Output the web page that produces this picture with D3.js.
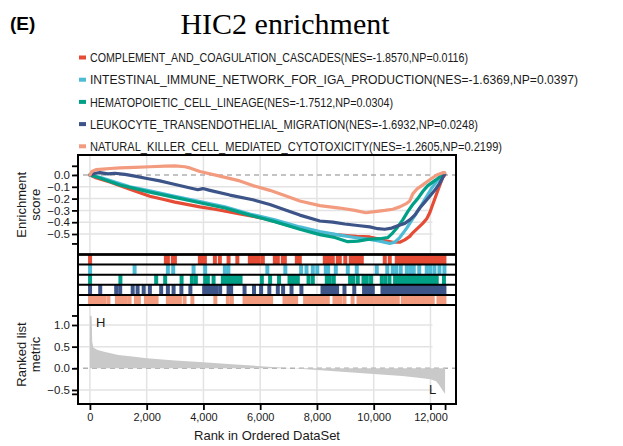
<!DOCTYPE html>
<html>
<head>
<meta charset="utf-8">
<script src="https://cdn.jsdelivr.net/npm/d3@7"></script>
<style>
  body { margin: 0; background: #fff; }
  text { font-family: "Liberation Sans", Arial, sans-serif; }
</style>
</head>
<body>
<svg id="chart" width="623" height="446"></svg>
<script>
// ---- gene sets ----
const setNames = [
  "COMPLEMENT_AND_COAGULATION_CASCADES",
  "INTESTINAL_IMMUNE_NETWORK_FOR_IGA_PRODUCTION",
  "HEMATOPOIETIC_CELL_LINEAGE",
  "LEUKOCYTE_TRANSENDOTHELIAL_MIGRATION",
  "NATURAL_KILLER_CELL_MEDIATED_CYTOTOXICITY"
];
const setNES = [-1.8570, -1.6369, -1.7512, -1.6932, -1.2605];
const setNP = [0.0116, 0.0397, 0.0304, 0.0248, 0.2199];
const setColors = ["#E64B35", "#4DBBD5", "#00A087", "#3C5488", "#F39B7F"];

// ---- running enrichment score, [rank, ES] ----
const esComplement = [[0,0],[176,-0.02],[704,-0.06],[1409,-0.12],[2113,-0.18],[2642,-0.21],[2994,-0.23],[3874,-0.27],[4403,-0.29],[5283,-0.33],[6163,-0.37],[7044,-0.43],[7748,-0.47],[8453,-0.5],[9157,-0.515],[9403,-0.52],[9861,-0.525],[10143,-0.54],[10390,-0.555],[10672,-0.57],[10918,-0.57],[11094,-0.55],[11270,-0.52],[11376,-0.49],[11552,-0.45],[11728,-0.41],[11869,-0.37],[11975,-0.32],[12080,-0.25],[12186,-0.18],[12292,-0.11],[12433,-0.02],[12503,0]];
const esIntestinal = [[0,0],[352,-0.02],[1409,-0.1],[2113,-0.135],[2994,-0.18],[3874,-0.225],[4755,-0.27],[5635,-0.33],[6516,-0.38],[7396,-0.44],[8101,-0.48],[8805,-0.51],[9333,-0.53],[9861,-0.545],[10214,-0.56],[10566,-0.58],[10742,-0.57],[10918,-0.53],[11165,-0.45],[11376,-0.37],[11517,-0.32],[11693,-0.25],[11869,-0.18],[12045,-0.11],[12221,-0.055],[12362,-0.03],[12468,0]];
const esHematopoietic = [[0,0],[352,-0.025],[1057,-0.085],[2113,-0.145],[2994,-0.19],[3874,-0.235],[4755,-0.28],[5635,-0.34],[6516,-0.395],[7396,-0.46],[8101,-0.505],[8629,-0.53],[9087,-0.565],[9439,-0.56],[9791,-0.545],[10214,-0.54],[10496,-0.53],[10672,-0.49],[10848,-0.44],[11024,-0.38],[11200,-0.31],[11376,-0.25],[11552,-0.2],[11728,-0.14],[11905,-0.09],[12080,-0.06],[12256,-0.03],[12397,0]];
const esLeukocyte = [[0,0],[176,0.015],[352,0.02],[634,0.01],[880,0.015],[1233,0.005],[1585,-0.01],[2007,-0.03],[2465,-0.05],[2818,-0.07],[3346,-0.1],[3804,-0.125],[3980,-0.115],[4226,-0.13],[4931,-0.17],[5741,-0.21],[6340,-0.25],[6938,-0.3],[7396,-0.34],[8101,-0.39],[8558,-0.4],[8981,-0.415],[9509,-0.43],[9861,-0.44],[10143,-0.455],[10390,-0.46],[10637,-0.45],[10848,-0.43],[11094,-0.41],[11270,-0.38],[11447,-0.34],[11623,-0.28],[11799,-0.23],[11975,-0.18],[12151,-0.13],[12327,-0.07],[12503,0.01]];
const esNaturalKiller = [[0,0],[70,0.03],[211,0.045],[458,0.05],[704,0.055],[1057,0.06],[1585,0.065],[2113,0.07],[2642,0.075],[2994,0.078],[3346,0.07],[3522,0.06],[3874,0.03],[4579,-0.01],[5283,-0.05],[5741,-0.09],[6340,-0.13],[6938,-0.18],[7396,-0.22],[8101,-0.26],[8805,-0.28],[9333,-0.3],[9720,-0.32],[10037,-0.31],[10390,-0.3],[10672,-0.29],[10918,-0.27],[11165,-0.24],[11270,-0.22],[11376,-0.16],[11517,-0.12],[11693,-0.09],[11975,-0.04],[12221,0],[12433,0.02],[12503,0.02]];
const esSeries = [esComplement, esIntestinal, esHematopoietic, esLeukocyte, esNaturalKiller];

// ---- positions of gene-set members in the ranked list ----
const hitsComplement = [5,2677,2747,2923,2994,3874,3980,4050,4403,4579,4885,5195,5635,5741,5847,5952,6093,6516,6621,6797,6868,7291,7396,8277,8383,8488,8558,8735,8805,8999,9192,9298,9403,9509,9580,10390,10566,10812,10918,11024,11130,11235,11341,11447,11552,11658,11764,11869,11975,12080,12186,12292,12397,12492];
const hitsIntestinal = [5,1574,2747,2935,3652,4061,4755,4878,6252,6886,7442,7632,7854,8012,8312,8393,8664,9087,9403,10108,10478,10672,10795,10953,11165,11288,11411,11605,11869,11992,12140,12316,12492];
const hitsHematopoietic = [5,1074,2335,2652,3230,3592,3733,4061,4156,4357,4684,4790,4896,5001,5107,5213,5308,6058,6350,6664,7033,7150,7255,7326,7703,7854,8347,8453,8594,9168,9281,9439,9640,9756,9907,10284,10408,10555,10753,10866,10971,11077,11183,11288,11394,11500,11605,11711,11817,11922,12028,12133,12221,12475];
const hitsLeukocyte = [5,363,926,1067,1507,1680,1895,2113,2511,2747,2948,3223,3540,4026,4131,4237,4343,4448,4589,4885,4977,5449,5783,6033,6322,6621,6808,7104,7453,8196,8301,8407,8513,8618,8710,8970,9316,9661,9767,9872,9967,10309,10415,10520,10626,10732,10837,10943,11048,11154,11260,11365,11471,11577,11683,11788,11894,12000,12105,12211,12316,12422,12492];
const hitsNaturalKiller = [5,88,194,299,405,511,652,951,1057,1162,1268,1398,1620,1726,1972,2078,2184,2289,2349,2747,2853,2958,3064,3170,3335,3610,4420,4860,5001,5449,5554,5660,5765,5871,5977,6082,6188,6294,6385,6857,6963,7069,7174,7266,7583,7689,7794,7900,8006,8111,8217,8323,8383,8618,8724,8830,8970,9256,9464,9570,9675,9781,9886,9992,10098,10203,10309,10415,10520,10626,10732,10848,11024,11130,11235,11341,11447,11552,11658,11764,11869,11975,12080,12281,12387,12492];
const hitSeries = [hitsComplement, hitsIntestinal, hitsHematopoietic, hitsLeukocyte, hitsNaturalKiller];

// ---- ranked list metric ----
const metricRanks = [0,60,80,120,250,500,1000,1500,2000,3000,4000,5000,6000,7000,8000,9000,10000,11000,11500,12000,12200,12300,12420,12480,12515];
const metricValues = [1.22,1.2,0.62,0.48,0.43,0.38,0.31,0.27,0.23,0.18,0.14,0.095,0.05,0.005,-0.04,-0.085,-0.13,-0.18,-0.21,-0.25,-0.3,-0.38,-0.5,-0.56,-0.59];
const rankMax = 12515;

// ---- axis ticks ----
const rankTicks = [0, 2000, 4000, 6000, 8000, 10000, 12000];
const esTicks = [0, -0.1, -0.2, -0.3, -0.4, -0.5];
const metricTicks = [1.0, 0.5, 0.0, -0.5];

// ---- layout ----
const svg = d3.select("#chart");
const L = 78, R = 456;
const topY0 = 155, topY1 = 254.5;
const rowsY0 = 254.5, rowsY1 = 305;
const botY0 = 305, botY1 = 404;
const rowH = (rowsY1 - rowsY0) / hitSeries.length;
const gridColor = "#e3e3e3";
const inkColor = "#1a1a1a";

const x = d3.scaleLinear().domain([-420, 12900]).range([L, R]);
const yES = d3.scaleLinear().domain([0, -0.5]).range([175, 234]);
const yM = d3.scaleLinear().domain([0, 1]).range([368.3, 325]);

// vertical grid through all three panels
svg.append("g").selectAll("line").data(rankTicks).join("line")
  .attr("x1", d => x(d)).attr("x2", d => x(d))
  .attr("y1", topY0).attr("y2", botY1)
  .attr("stroke", gridColor).attr("stroke-width", 1.5);

// horizontal grid (enrichment + metric panels)
svg.append("g").selectAll("line").data(esTicks.filter(d => d !== 0)).join("line")
  .attr("x1", L).attr("x2", x(12000) + 2)
  .attr("y1", d => yES(d)).attr("y2", d => yES(d))
  .attr("stroke", gridColor).attr("stroke-width", 1.5);
svg.append("g").selectAll("line").data(metricTicks.filter(d => d !== 0)).join("line")
  .attr("x1", L).attr("x2", x(12000) + 2)
  .attr("y1", d => yM(d)).attr("y2", d => yM(d))
  .attr("stroke", gridColor).attr("stroke-width", 1.5);

// zero lines
[yES(0), yM(0)].forEach(yy => {
  svg.append("line").attr("x1", L - 4).attr("x2", R + 2)
    .attr("y1", yy).attr("y2", yy)
    .attr("stroke", "#b0b0b0").attr("stroke-width", 1.5)
    .attr("stroke-dasharray", "5,4");
});

// running enrichment score curves
const esLine = d3.line().x(d => x(d[0])).y(d => yES(d[1]));
svg.append("g").selectAll("path").data(esSeries).join("path")
  .attr("d", esLine)
  .attr("fill", "none")
  .attr("stroke", (d, i) => setColors[i])
  .attr("stroke-width", 3.2)
  .attr("stroke-linejoin", "round")
  .attr("stroke-linecap", "round");

// hit bars, one row per gene set
const hitW = 4;
hitSeries.forEach((hits, i) => {
  svg.append("g").selectAll("rect").data(hits).join("rect")
    .attr("x", d => x(d) - hitW / 2)
    .attr("width", hitW)
    .attr("y", rowsY0 + i * rowH)
    .attr("height", rowH)
    .attr("fill", setColors[i]);
});
svg.append("g").selectAll("line").data(d3.range(hitSeries.length + 1)).join("line")
  .attr("x1", L).attr("x2", R)
  .attr("y1", d => rowsY0 + d * rowH).attr("y2", d => rowsY0 + d * rowH)
  .attr("stroke", "#000").attr("stroke-width", 2);

// ranked list metric
const metric = metricRanks.map((r, i) => [r, metricValues[i]]);
svg.append("path")
  .datum(metric)
  .attr("d", d3.area().x(d => x(d[0])).y0(yM(0)).y1(d => yM(d[1])))
  .attr("fill", "#c9c9c9");

svg.append("text").attr("x", 96).attr("y", 327).attr("font-size", 13).attr("fill", inkColor).text("H");
svg.append("text").attr("x", 429).attr("y", 394).attr("font-size", 13).attr("fill", inkColor).text("L");

// panel frames
[[topY0, topY1], [rowsY0, rowsY1], [botY0, botY1]].forEach(([a, b]) => {
  svg.append("rect").attr("x", L).attr("y", a).attr("width", R - L).attr("height", b - a)
    .attr("fill", "none").attr("stroke", "#000").attr("stroke-width", 2);
});

// axes
function styleAxis(g) {
  g.select(".domain").remove();
  g.selectAll(".tick line").attr("stroke", "#000").attr("stroke-width", 1.8);
  g.selectAll(".tick text").attr("fill", inkColor)
    .style("font-family", "'Liberation Sans', Arial, sans-serif");
}
const esExtent = d3.extent(esSeries.flat(), d => d[1]);
const mExtent = d3.extent(metricValues);

svg.append("g").attr("transform", `translate(${L},0)`)
  .call(d3.axisLeft(yES).tickValues(esTicks).tickFormat(d3.format(".1f")).tickSize(6).tickPadding(2))
  .call(styleAxis).selectAll("text").attr("font-size", 11.5);
svg.append("g").attr("transform", `translate(${L},0)`)
  .call(d3.axisLeft(yES).tickValues(esExtent).tickFormat("").tickSize(6))
  .call(styleAxis);

svg.append("g").attr("transform", `translate(${L},0)`)
  .call(d3.axisLeft(yM).tickValues(metricTicks).tickFormat(d3.format(".1f")).tickSize(6).tickPadding(2))
  .call(styleAxis).selectAll("text").attr("font-size", 11.5);
svg.append("g").attr("transform", `translate(${L},0)`)
  .call(d3.axisLeft(yM).tickValues(mExtent).tickFormat("").tickSize(6))
  .call(styleAxis);

svg.append("g").attr("transform", `translate(0,${botY1})`)
  .call(d3.axisBottom(x).tickValues(rankTicks).tickFormat(d3.format(",")).tickSize(6).tickPadding(3))
  .call(styleAxis).selectAll("text").attr("font-size", 11);
svg.append("g").attr("transform", `translate(0,${botY1})`)
  .call(d3.axisBottom(x).tickValues([rankMax]).tickFormat("").tickSize(6))
  .call(styleAxis);

// axis titles
svg.append("text").attr("x", 267).attr("y", 440).attr("text-anchor", "middle")
  .attr("font-size", 13).attr("fill", inkColor).text("Rank in Ordered DataSet");

function yTitle(lines, cy) {
  const g = svg.append("g").attr("transform", `translate(0,${cy})`);
  lines.forEach((t, i) => {
    g.append("text").attr("transform", `translate(${26 + i * 14},0) rotate(-90)`)
      .attr("text-anchor", "middle").attr("font-size", 13).attr("fill", inkColor).text(t);
  });
}
yTitle(["Enrichment", "score"], (topY0 + topY1) / 2);
yTitle(["Ranked list", "metric"], (botY0 + botY1) / 2);

// legend (condensed face: each entry is fitted to its set width)
const legendWidths = [378, 488, 303, 388, 412];
const legend = svg.append("g");
setNames.forEach((name, i) => {
  const cy = 57.5 + i * 22.2;
  legend.append("rect").attr("x", 79).attr("y", cy - 2).attr("width", 7).attr("height", 4)
    .attr("fill", setColors[i]);
  legend.append("text").attr("x", 90).attr("y", cy + 4.6).attr("font-size", 12.5)
    .attr("fill", inkColor)
    .attr("textLength", legendWidths[i]).attr("lengthAdjust", "spacingAndGlyphs")
    .text(`${name}(NES=${setNES[i].toFixed(4)},NP=${setNP[i].toFixed(4)})`);
});

// titles
svg.append("text").attr("x", 285).attr("y", 34).attr("text-anchor", "middle")
  .style("font-family", "'Liberation Serif', 'Times New Roman', serif")
  .attr("font-size", 30).attr("fill", "#000").text("HIC2 enrichment");
svg.append("text").attr("x", 10).attr("y", 30)
  .attr("font-size", 19).attr("font-weight", "bold").attr("fill", "#000").text("(E)");
</script>
</body>
</html>
